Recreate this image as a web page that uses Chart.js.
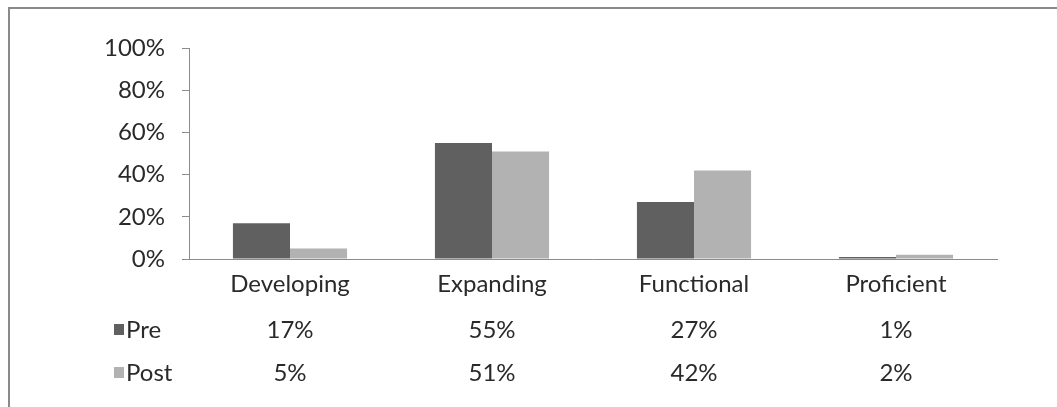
<!DOCTYPE html>
<html>
<head>
<meta charset="utf-8">
<script src="https://cdn.jsdelivr.net/npm/chart.js@4.4.1/dist/chart.umd.min.js"></script>
<style>
  html, body { margin: 0; padding: 0; background: #ffffff; overflow: hidden; }
  #frame { position: absolute; left: 8px; top: 7px; width: 1200px; height: 600px; border: 2px solid #8a8a8a; box-sizing: border-box; }
  #wrap { position: absolute; left: 0; top: 0; width: 1057px; height: 407px; }
</style>
</head>
<body>
<div id="frame"></div>
<div id="wrap"><canvas id="c" width="1057" height="407"></canvas></div>
<script>
const categories = ['Developing', 'Expanding', 'Functional', 'Proficient'];
const seriesNames = ['Pre', 'Post'];
const preValues = [17, 55, 27, 1];
const postValues = [5, 51, 42, 2];
const yTicks = [0, 20, 40, 60, 80, 100];
const seriesColors = ['#606060', '#b2b2b2'];

const FONT = 'Lato, "Open Sans", sans-serif';
const FONT_SIZE = 24;
const TEXT_COLOR = '#2a2a2a';

const dataTablePlugin = {
  id: 'dataTable',
  afterDraw(chart) {
    const ctx = chart.ctx;
    const xs = chart.scales.x;
    const rowsY = [330, 373];
    ctx.save();
    ctx.font = FONT_SIZE + 'px ' + FONT;
    ctx.fillStyle = TEXT_COLOR;
    ctx.textBaseline = 'middle';
    chart.data.datasets.forEach((ds, r) => {
      const y = rowsY[r];
      ctx.fillStyle = ds.backgroundColor;
      ctx.fillRect(114, y - 6, 10, 11);
      ctx.fillStyle = TEXT_COLOR;
      ctx.textAlign = 'left';
      ctx.fillText(ds.label, 126, y);
      ctx.textAlign = 'center';
      ds.data.forEach((v, i) => {
        ctx.fillText(v + '%', xs.getPixelForValue(i), y);
      });
    });
    ctx.restore();
  }
};

new Chart(document.getElementById('c'), {
  type: 'bar',
  data: {
    labels: categories,
    datasets: [
      { label: seriesNames[0], data: preValues, backgroundColor: seriesColors[0], borderWidth: 0 },
      { label: seriesNames[1], data: postValues, backgroundColor: seriesColors[1], borderWidth: 0 }
    ]
  },
  options: {
    responsive: false,
    animation: false,
    devicePixelRatio: 1,
    layout: { padding: { left: 0, top: 48, right: 60, bottom: 0 } },
    datasets: { bar: { categoryPercentage: 0.565, barPercentage: 1.0 } },
    plugins: { legend: { display: false }, tooltip: { enabled: false } },
    scales: {
      x: {
        grid: { display: false, drawTicks: false },
        border: { display: true, color: '#8c8c8c', width: 1 },
        ticks: { color: TEXT_COLOR, font: { family: FONT, size: FONT_SIZE }, padding: 11, maxRotation: 0 },
        afterFit(s) { s.height = 148; }
      },
      y: {
        min: 0, max: 100,
        afterBuildTicks(s) { s.ticks = yTicks.map(v => ({ value: v })); },
        grid: { drawOnChartArea: false, drawTicks: true, tickLength: 7, color: '#8c8c8c' },
        border: { display: true, color: '#8c8c8c', width: 1 },
        ticks: { color: TEXT_COLOR, font: { family: FONT, size: FONT_SIZE }, padding: 17, callback: v => v + '%' },
        afterFit(s) { s.width = 189; }
      }
    }
  },
  plugins: [dataTablePlugin]
});
</script>
</body>
</html>
